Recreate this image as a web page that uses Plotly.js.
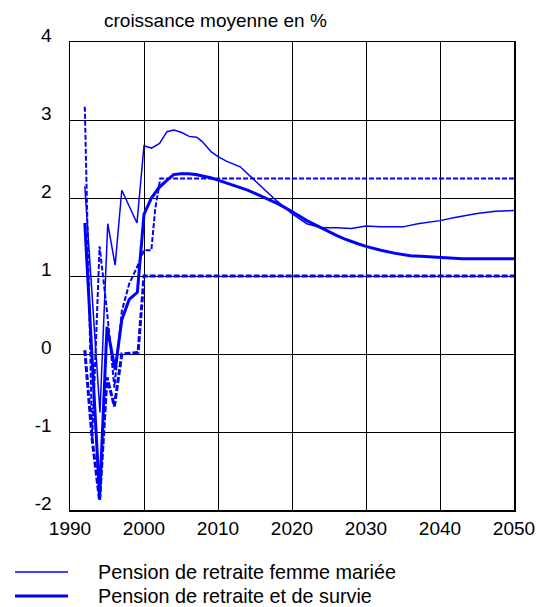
<!DOCTYPE html>
<html><head><meta charset="utf-8">
<script src="https://cdn.plot.ly/plotly-3.0.1.min.js"></script>
<style>html,body{margin:0;padding:0;background:#fff}#chart{width:548px;height:607px}</style>
</head><body><div id="chart"></div>
<script>
// Pension de retraite femme mariée (thin solid)
const femmeYears = [1992,1994.05,1995.1,1996.1,1997,1999.05,2000,2001,2002.1,2003.1,2004.05,2005.1,2006.1,2007.1,2007.8,2009.1,2010,2011.2,2013,2017.5,2020,2022,2024,2026,2028,2030,2032,2035,2037,2040,2042,2045,2047.5,2050];
const femmeValues = [2.15,-0.75,1.67,1.14,2.1,1.68,2.67,2.64,2.70,2.85,2.87,2.84,2.79,2.78,2.73,2.59,2.53,2.47,2.40,2.0,1.80,1.67,1.62,1.62,1.61,1.64,1.63,1.63,1.67,1.71,1.75,1.80,1.83,1.84];

// Pension de retraite et de survie (thick solid)
const survieYears = [1992,1994,1995,1996.1,1997,1998,1999.1,2000,2001,2002,2003,2004,2005,2006,2007,2008,2009,2010,2011,2012,2013,2014,2015,2016,2017,2018,2019,2020,2021,2022,2023,2024,2025,2026,2027,2028,2029,2030,2032,2034,2036,2038,2040,2043,2046,2050];
const survieValues = [1.68,-1.84,0.35,-0.2,0.44,0.70,0.79,1.79,2.0,2.13,2.22,2.30,2.31,2.31,2.30,2.28,2.26,2.23,2.20,2.17,2.14,2.10,2.06,2.02,1.97,1.93,1.88,1.83,1.77,1.71,1.66,1.61,1.56,1.52,1.48,1.44,1.41,1.38,1.33,1.29,1.26,1.25,1.24,1.22,1.22,1.22];

// dashed series (no legend entry)
const dashAYears = [1992,1993,1994,1995,1996,1997,1998,1999,2000,2001,2001.5,2002.2,2050];
const dashAValues = [3.17,-1.1,1.38,0.55,-0.43,0.55,0.9,1.1,1.33,1.33,1.85,2.25,2.25];
const dashBYears = [1992,1993,1994,1995,1996,1996.5,1997,1999.2,2000,2050];
const dashBValues = [0.05,-1.1,-1.88,-0.3,-0.67,-0.33,0.0,0.02,1.0,1.0];

const tickYears = [1990,2000,2010,2020,2030,2040,2050];
const tickVals = [-2,-1,0,1,2,3,4];
const legendNames = ['Pension de retraite femme mariée','Pension de retraite et de survie'];

const blue = '#0000ff';
const traces = [
  {x: dashAYears, y: dashAValues, mode:'lines', line:{color:blue, width:2, dash:'5px,2px'}, showlegend:false, hoverinfo:'skip'},
  {x: dashBYears, y: dashBValues, mode:'lines', line:{color:blue, width:3, dash:'6px,2px'}, showlegend:false, hoverinfo:'skip'},
  {x: femmeYears, y: femmeValues, mode:'lines', name:legendNames[0], line:{color:blue, width:1.5}, showlegend:false},
  {x: survieYears, y: survieValues, mode:'lines', name:legendNames[1], line:{color:blue, width:3}, showlegend:false}
];

const W = 548, H = 607, L = 70, R = 514, T = 42, B = 510;
const px = v => (v - L) / (R - L);
const py = v => (B - v) / (B - T);

const font = {family:'Liberation Sans, Arial, sans-serif', size:19, color:'#000'};
const legFont = {family:'Liberation Sans, Arial, sans-serif', size:19.8, color:'#000'};
const layout = {
  width:W, height:H,
  margin:{l:L, r:W-R, t:T, b:H-B},
  paper_bgcolor:'#fff', plot_bgcolor:'#fff',
  font: font,
  title:{text:'croissance moyenne en %', x:104/W, xanchor:'left', xref:'container', y:1-20/H, yanchor:'middle', yref:'container', font:font},
  xaxis:{range:[1990,2050], tickvals:tickYears, ticktext:tickYears.map(String), showgrid:true, gridcolor:'#000', gridwidth:1,
         showline:true, linecolor:'#000', linewidth:1.5, mirror:true, ticks:'', zeroline:false, tickfont:font, ticklabelstandoff:1, automargin:false},
  yaxis:{range:[-2,4], tickvals:tickVals, ticktext:tickVals.map(String), showgrid:true, gridcolor:'#000', gridwidth:1,
         showline:true, linecolor:'#000', linewidth:1.5, mirror:true, ticks:'', zeroline:false, tickfont:font, ticklabelstandoff:13, ticklabelshift:-7, automargin:false},
  showlegend:false,
  shapes:[
    {type:'line', xref:'paper', yref:'paper', x0:px(15), x1:px(68), y0:py(572), y1:py(572), line:{color:blue, width:1.5}},
    {type:'line', xref:'paper', yref:'paper', x0:px(15), x1:px(68), y0:py(596), y1:py(596), line:{color:blue, width:3}}
  ],
  annotations:[
    {text:legendNames[0], xref:'paper', yref:'paper', x:px(96), y:py(572), xanchor:'left', yanchor:'middle', showarrow:false, font:legFont},
    {text:legendNames[1], xref:'paper', yref:'paper', x:px(96), y:py(596), xanchor:'left', yanchor:'middle', showarrow:false, font:legFont}
  ]
};
Plotly.newPlot('chart', traces, layout, {staticPlot:true});
</script></body></html>
